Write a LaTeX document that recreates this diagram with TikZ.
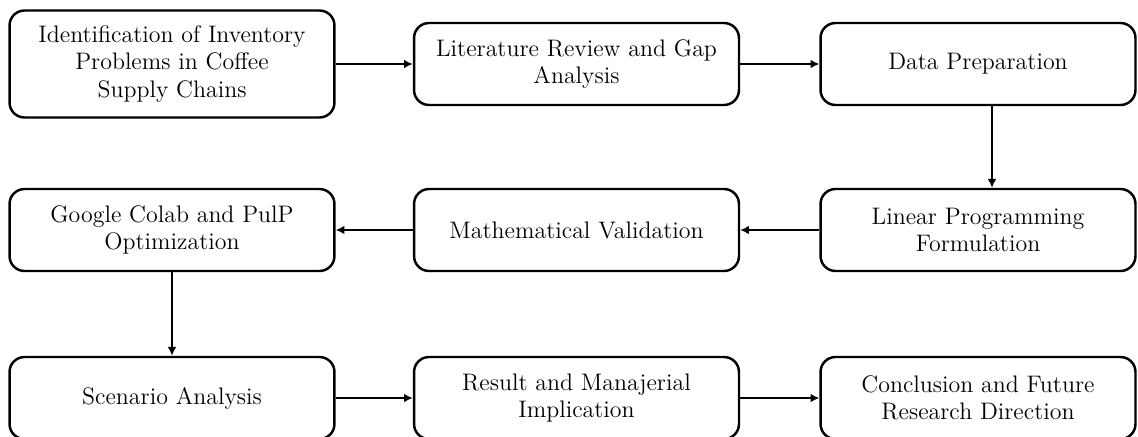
\documentclass[tikz,border=0pt]{standalone}
\usetikzlibrary{arrows.meta}

\begin{document}
\begin{tikzpicture}[x=0.02cm, y=-0.02cm,
    stage/.style={draw, line width=1.4pt, rounded corners=0.3cm,
        minimum width=6.5cm, minimum height=1.64cm, align=center,
        font=\fontsize{13.6}{15.5}\selectfont},
    flow/.style={line width=1.1pt, -{Latex[length=5pt,width=5pt]}}]
    \def\colLeft{172}
    \def\colMid{576.5}
    \def\colRight{978}

    % Page size
    \useasboundingbox (0,0) rectangle (1138,436);

    % Top row
    \node[stage, minimum height=2.14cm] (problem) at (\colLeft,64)
        {Identification of Inventory\\Problems in Coffee\\Supply Chains};
    \node[stage] (review) at (\colMid,64) {Literature Review and Gap\\Analysis};
    \node[stage, minimum width=6.3cm] (prep) at (\colRight,64) {Data Preparation};

    % Middle row
    \node[stage, minimum width=6.3cm] (lpf) at (\colRight,230)
        {Linear Programming\\Formulation};
    \node[stage] (validation) at (\colMid,230) {Mathematical Validation};
    \node[stage] (colab) at (\colLeft,230) {Google Colab and PulP\\Optimization};

    % Bottom row
    \node[stage] (scenario) at (\colLeft,398) {Scenario Analysis};
    \node[stage] (result) at (\colMid,398) {Result and Manajerial\\Implication};
    \node[stage, minimum width=6.3cm] (future) at (\colRight,398)
        {Conclusion and Future\\Research Direction};

    % Draw arrows
    \draw[flow] (problem) -- (review);
    \draw[flow] (review) -- (prep);
    \draw[flow] ([xshift=0.28cm]prep.south) -- ([xshift=0.28cm]lpf.north);
    \draw[flow] (lpf) -- (validation);
    \draw[flow] (validation) -- (colab);
    \draw[flow] (colab) -- (scenario);
    \draw[flow] (scenario) -- (result);
    \draw[flow] (result) -- (future);

\end{tikzpicture}
\end{document}
